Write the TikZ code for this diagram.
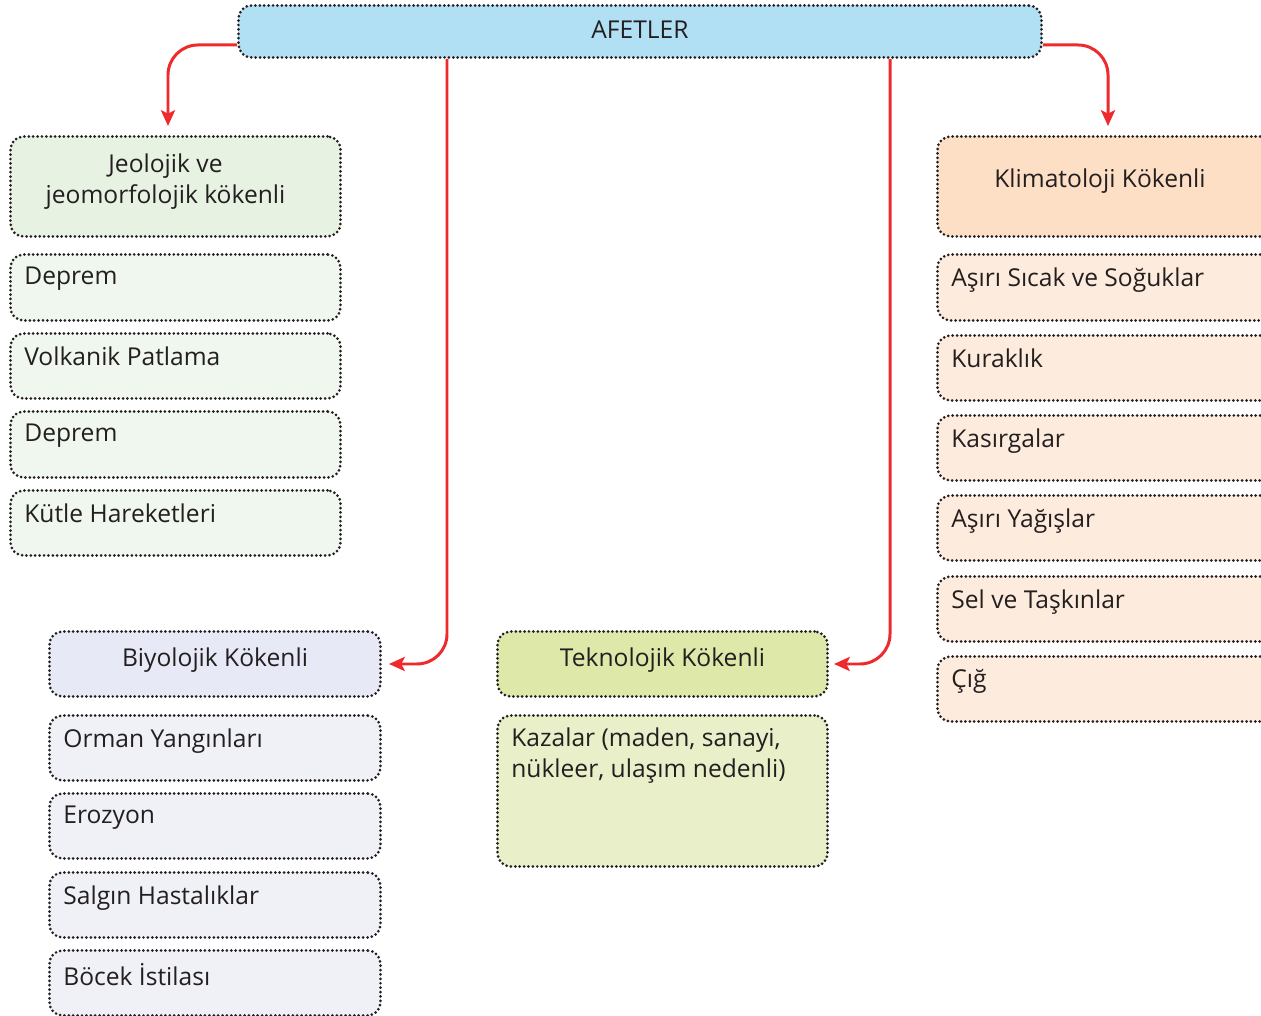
\documentclass[tikz,border=0pt]{standalone}
\usepackage{fontspec}
\setmainfont{Open Sans}
\usetikzlibrary{arrows.meta,calc}
\definecolor{afetblue}{HTML}{B1E0F5}
\definecolor{jeoH}{HTML}{E7F2E3}
\definecolor{jeoI}{HTML}{F0F7EE}
\definecolor{klimH}{HTML}{FDDFC5}
\definecolor{klimI}{HTML}{FDEBDD}
\definecolor{bioH}{HTML}{E7E9F6}
\definecolor{bioI}{HTML}{F0F1F7}
\definecolor{tekH}{HTML}{DEE8A9}
\definecolor{tekI}{HTML}{E9EFC9}
\definecolor{arrred}{HTML}{EE2A2D}
\definecolor{txt}{HTML}{231F20}
\tikzset{
  dotbox/.style={draw=txt, line width=1.7pt, dash pattern=on 0pt off 2.5pt, line cap=round, rounded corners=0.26cm, inner sep=0pt, anchor=north west},
  lbl/.style={anchor=north west, inner sep=0pt, text=txt, font=\fontsize{14}{18}\selectfont, align=left},
  hlbl/.style={inner sep=0pt, text=txt, font=\fontsize{14}{18}\selectfont, align=center},
  arr/.style={draw=arrred, line width=1.7pt, rounded corners=0.6cm, -{Stealth[length=9pt,width=8pt,inset=2pt]}}
}
\newcommand{\mybox}[6]{\node[dotbox, fill=#6, minimum width={#4*0.02cm}, minimum height={#5*0.02cm}] (#1) at (#2,#3) {};}
\begin{document}
\begin{tikzpicture}[x=0.02cm,y=-0.02cm]
\clip (0,0) rectangle (1261,1016);
\fill[white] (0,0) rectangle (1261,1016);
% top
\mybox{afet}{237}{4}{803}{52}{afetblue}
\node[hlbl] (afett) at ($(afet.center)+(0,-2)$) {AFETLER};
% left column
\mybox{jeo}{9}{135}{330}{100}{jeoH}
\node[hlbl] (jeot) at ($(jeo.center)+(-10,-5)$) {Jeolojik ve\\jeomorfolojik kökenli};
\mybox{j1}{9}{253}{330}{66}{jeoI}
\mybox{j2}{9}{332}{330}{65}{jeoI}
\mybox{j3}{9}{410}{330}{66}{jeoI}
\mybox{j4}{9}{489}{330}{65}{jeoI}
\node[lbl] (j1t) at ($(j1.north west)+(15,14)$) {Deprem};
\node[lbl] (j2t) at ($(j2.north west)+(15,14)$) {Volkanik Patlama};
\node[lbl] (j3t) at ($(j3.north west)+(15,14)$) {Deprem};
\node[lbl] (j4t) at ($(j4.north west)+(15,14)$) {Kütle Hareketleri};
% right column
\mybox{klim}{936}{135}{340}{100}{klimH}
\node[hlbl] (klimt) at (1100,181) {Klimatoloji Kökenli};
\mybox{k1}{936}{253}{340}{66}{klimI}
\mybox{k2}{936}{334}{340}{65}{klimI}
\mybox{k3}{936}{414}{340}{65}{klimI}
\mybox{k4}{936}{494}{340}{65}{klimI}
\mybox{k5}{936}{575}{340}{65}{klimI}
\mybox{k6}{936}{655}{340}{65}{klimI}
\node[lbl] (k1t) at ($(k1.north west)+(15,14)$) {Aşırı Sıcak ve Soğuklar};
\node[lbl] (k2t) at ($(k2.north west)+(15,14)$) {Kuraklık};
\node[lbl] (k3t) at ($(k3.north west)+(15,14)$) {Kasırgalar};
\node[lbl] (k4t) at ($(k4.north west)+(15,14)$) {Aşırı Yağışlar};
\node[lbl] (k5t) at ($(k5.north west)+(15,14)$) {Sel ve Taşkınlar};
\node[lbl] (k6t) at ($(k6.north west)+(15,14)$) {Çığ};
% biyolojik
\mybox{bio}{48}{630}{331}{65}{bioH}
\node[hlbl] (biot) at ($(bio.center)+(0,-4)$) {Biyolojik Kökenli};
\mybox{b1}{48}{714}{331}{65}{bioI}
\mybox{b2}{48}{792}{331}{65}{bioI}
\mybox{b3}{48}{871}{331}{65}{bioI}
\mybox{b4}{48}{949}{331}{65}{bioI}
\node[lbl] (b1t) at ($(b1.north west)+(15,14)$) {Orman Yangınları};
\node[lbl] (b2t) at ($(b2.north west)+(15,14)$) {Erozyon};
\node[lbl] (b3t) at ($(b3.north west)+(15,14)$) {Salgın Hastalıklar};
\node[lbl] (b4t) at ($(b4.north west)+(15,14)$) {Böcek İstilası};
% teknolojik
\mybox{tek}{496}{630}{330}{65}{tekH}
\node[hlbl] (tekt) at ($(tek.center)+(0,-4)$) {Teknolojik Kökenli};
\mybox{t1}{496}{714}{330}{151}{tekI}
\node[lbl] (t1t) at ($(t1.north west)+(15,13)$) {Kazalar (maden, sanayi,\\nükleer, ulaşım nedenli)};
% arrows
\draw[arr] ($(afet.south west)+(0,-14)$) -| ($(jeo.north west)+(159,-9)$);
\draw[arr] ($(afet.south east)+(0,-14)$) -| ($(klim.north west)+(172,-9)$);
\draw[arr] (afet.south -| 447,0) |- ($(bio.east)+(7,0)$);
\draw[arr] (afet.south -| 890,0) |- ($(tek.east)+(5,0)$);
\end{tikzpicture}
\end{document}
